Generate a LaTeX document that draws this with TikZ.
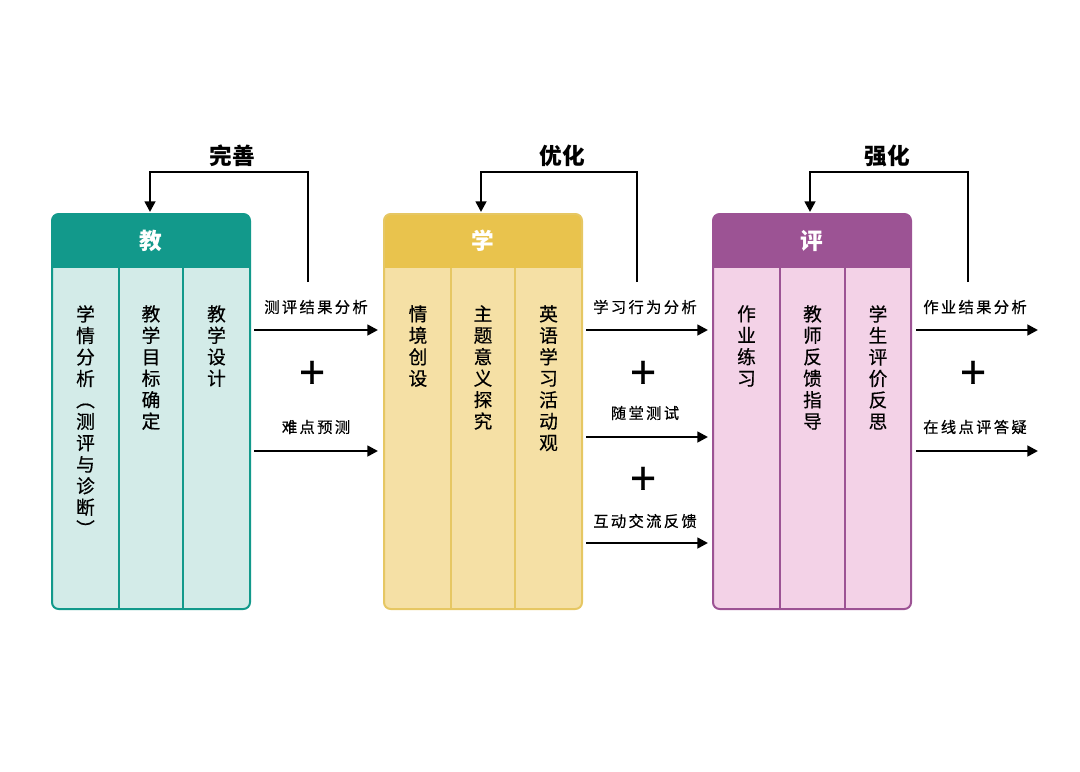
\documentclass[tikz,border=0pt]{standalone}
\usepackage{fontspec}
\setmainfont{Noto Sans CJK SC}
\newfontfamily\midfont[FakeBold=0.5]{Noto Sans CJK SC}
\newfontfamily\labelfont[LetterSpace=15,FakeBold=0.5]{Noto Sans CJK SC}
\usetikzlibrary{arrows.meta}
\definecolor{jiaodark}{HTML}{12998B}
\definecolor{jiaolight}{HTML}{D3EBE8}
\definecolor{xuedark}{HTML}{E9C34D}
\definecolor{xueline}{HTML}{E6C763}
\definecolor{xuelight}{HTML}{F5E0A5}
\definecolor{pingdark}{HTML}{9C5394}
\definecolor{pinglight}{HTML}{F3D2E7}
\tikzset{
  flow/.style={line width=1.9pt, -{Triangle[length=8pt,width=8pt]}},
  head/.style={text=white, font=\bfseries\fontsize{17}{17}\selectfont},
  col/.style={anchor=north, align=center, inner sep=0pt, font=\midfont\fontsize{14}{16.1}\selectfont},
  lbl/.style={font=\labelfont\fontsize{11.5}{12}\selectfont},
  plus/.style={font=\midfont\fontsize{34}{34}\selectfont},
  loopname/.style={font=\bfseries\fontsize{17}{17}\selectfont}
}
\begin{document}
\begin{tikzpicture}[x=0.75pt,y=-0.75pt]
  \useasboundingbox (0,0) rectangle (1080,771);
  % 教
  \begin{scope}
    \clip[rounded corners=5pt] (52,214) rectangle (250,609);
    \fill[jiaolight] (52,214) rectangle (250,609);
    \fill[jiaodark] (52,214) rectangle (250,268);
  \end{scope}
  \draw[jiaodark, line width=1.5pt, rounded corners=5pt] (52,214) rectangle (250,609);
  \draw[jiaodark, line width=1.5pt] (119,268) -- (119,609) (183,268) -- (183,609);
  \node[head] (jiao) at (151,241) {教};
  \node[col] (xueqing) at (85.5,305) {学\\情\\分\\析\\︵\\测\\评\\与\\诊\\断\\︶};
  \node[col] (mubiao) at (151,305) {教\\学\\目\\标\\确\\定};
  \node[col] (sheji) at (216.5,305) {教\\学\\设\\计};
  % 学
  \begin{scope}
    \clip[rounded corners=5pt] (384,214) rectangle (582,609);
    \fill[xuelight] (384,214) rectangle (582,609);
    \fill[xuedark] (384,214) rectangle (582,268);
  \end{scope}
  \draw[xueline, line width=1.5pt, rounded corners=5pt] (384,214) rectangle (582,609);
  \draw[xueline, line width=1.5pt] (451,268) -- (451,609) (515,268) -- (515,609);
  \node[head] (xue) at (483,241) {学};
  \node[col] (qingjing) at (418,305) {情\\境\\创\\设};
  \node[col] (zhuti) at (483,305) {主\\题\\意\\义\\探\\究};
  \node[col] (huodong) at (548.5,305) {英\\语\\学\\习\\活\\动\\观};
  % 评
  \begin{scope}
    \clip[rounded corners=5pt] (713,214) rectangle (911,609);
    \fill[pinglight] (713,214) rectangle (911,609);
    \fill[pingdark] (713,214) rectangle (911,268);
  \end{scope}
  \draw[pingdark, line width=1.5pt, rounded corners=5pt] (713,214) rectangle (911,609);
  \draw[pingdark, line width=1.5pt] (780,268) -- (780,609) (845,268) -- (845,609);
  \node[head] (ping) at (812,241) {评};
  \node[col] (zuoye) at (746.5,305) {作\\业\\练\\习};
  \node[col] (fankui) at (812.5,305) {教\\师\\反\\馈\\指\\导};
  \node[col] (fansi) at (878,305) {学\\生\\评\\价\\反\\思};
  % feedback loops
  \coordinate (wanshanS) at (308,282);
  \coordinate (wanshanE) at (150,212);
  \draw[flow] (wanshanS) -- (308,172) -| (wanshanE);
  \node[loopname] (wanshan) at (232,156) {完善};
  \coordinate (youhuaS) at (637,282);
  \coordinate (youhuaE) at (481,212);
  \draw[flow] (youhuaS) -- (637,172) -| (youhuaE);
  \node[loopname] (youhua) at (562,156) {优化};
  \coordinate (qianghuaS) at (968,282);
  \coordinate (qianghuaE) at (810,212);
  \draw[flow] (qianghuaS) -- (968,172) -| (qianghuaE);
  \node[loopname] (qianghua) at (887,156) {强化};
  % 教 -> 学
  \coordinate (a1s) at (254,330);
  \coordinate (a1e) at (378,330);
  \coordinate (a2s) at (254,451);
  \coordinate (a2e) at (378,451);
  \draw[flow] (a1s) -- (a1e);
  \draw[flow] (a2s) -- (a2e);
  \node[lbl] (cepingjieguo) at (316,307) {测评结果分析};
  \node[lbl] (nandian) at (316,427) {难点预测};
  \node[plus] (plus1) at (312,375) {+};
  % 学 -> 评
  \coordinate (b1s) at (586,330);
  \coordinate (b1e) at (708,330);
  \coordinate (b2s) at (586,437);
  \coordinate (b2e) at (708,437);
  \coordinate (b3s) at (586,543);
  \coordinate (b3e) at (708,543);
  \draw[flow] (b1s) -- (b1e);
  \draw[flow] (b2s) -- (b2e);
  \draw[flow] (b3s) -- (b3e);
  \node[lbl] (xingwei) at (645,307) {学习行为分析};
  \node[lbl] (suitang) at (645,413) {随堂测试};
  \node[lbl] (hudong) at (645,521) {互动交流反馈};
  \node[plus] (plus2) at (643,375) {+};
  \node[plus] (plus3) at (643,481) {+};
  % 评 -> out
  \coordinate (c1s) at (916,330);
  \coordinate (c1e) at (1038,330);
  \coordinate (c2s) at (916,451);
  \coordinate (c2e) at (1038,451);
  \draw[flow] (c1s) -- (c1e);
  \draw[flow] (c2s) -- (c2e);
  \node[lbl] (zuoyejieguo) at (975,307) {作业结果分析};
  \node[lbl] (zaixian) at (975,427) {在线点评答疑};
  \node[plus] (plus4) at (973,375) {+};
\end{tikzpicture}
\end{document}
